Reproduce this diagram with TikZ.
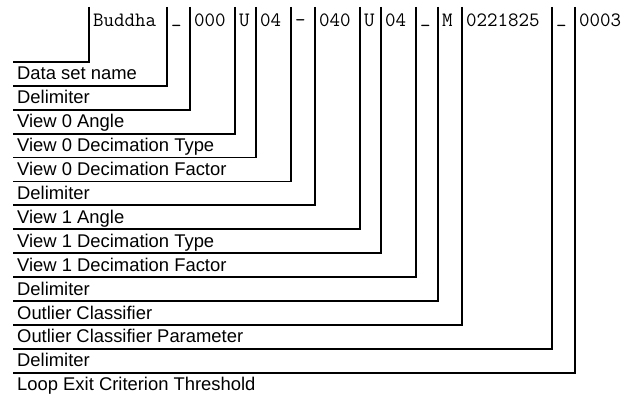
\documentclass[tikz,border=0pt]{standalone}
\usepackage{fontspec}
\setmainfont{Liberation Sans}
\newcommand{\lowbar}{\raisebox{4pt}{\_}}
\begin{document}
\begin{tikzpicture}[x=1pt,y=-1pt,
  field/.style={font=\ttfamily\fontsize{20.4}{22}\selectfont, anchor=base west, inner sep=0pt},
  caption/.style={font=\fontsize{18.4}{20}\selectfont, anchor=base west, inner sep=0pt},
  bracket/.style={line width=1.8pt, line join=miter, black}]
\useasboundingbox (0,0) rectangle (623,395);

% fields of the file name, each preceded by a separator line
\foreach \x/\t [count=\i] in {89/{Buddha}, 167/{\lowbar}, 190/{000}, 235/{U}, 256/{04},
    291/{-}, 315/{040}, 360/{U}, 381/{04}, 416/{\lowbar}, 438/{M}, 462/{0221825},
    552/{\lowbar}, 575/{0003}} {
  \node[field] (f\i) at (\x+4,27) {\t};
  \coordinate (t\i) at (\x,7);
  \coordinate (c\i) at (\x,{62+23.9*(\i-1)});
  \coordinate (e\i) at (13,{62+23.9*(\i-1)});
}

% captions, one per field
\foreach \t [count=\i] in {Data set name, Delimiter, View 0 Angle,
    View 0 Decimation Type, View 0 Decimation Factor, Delimiter, View 1 Angle,
    View 1 Decimation Type, View 1 Decimation Factor, Delimiter,
    Outlier Classifier, Outlier Classifier Parameter, Delimiter,
    Loop Exit Criterion Threshold} {
  \node[caption] (l\i) at (17,{62+23.9*(\i-1)+18}) {\t};
}

% bracket lines linking each field to its caption
\foreach \i in {1,...,14} {
  \draw[bracket] (t\i) -- (c\i) -- (e\i);
}
\end{tikzpicture}
\end{document}
